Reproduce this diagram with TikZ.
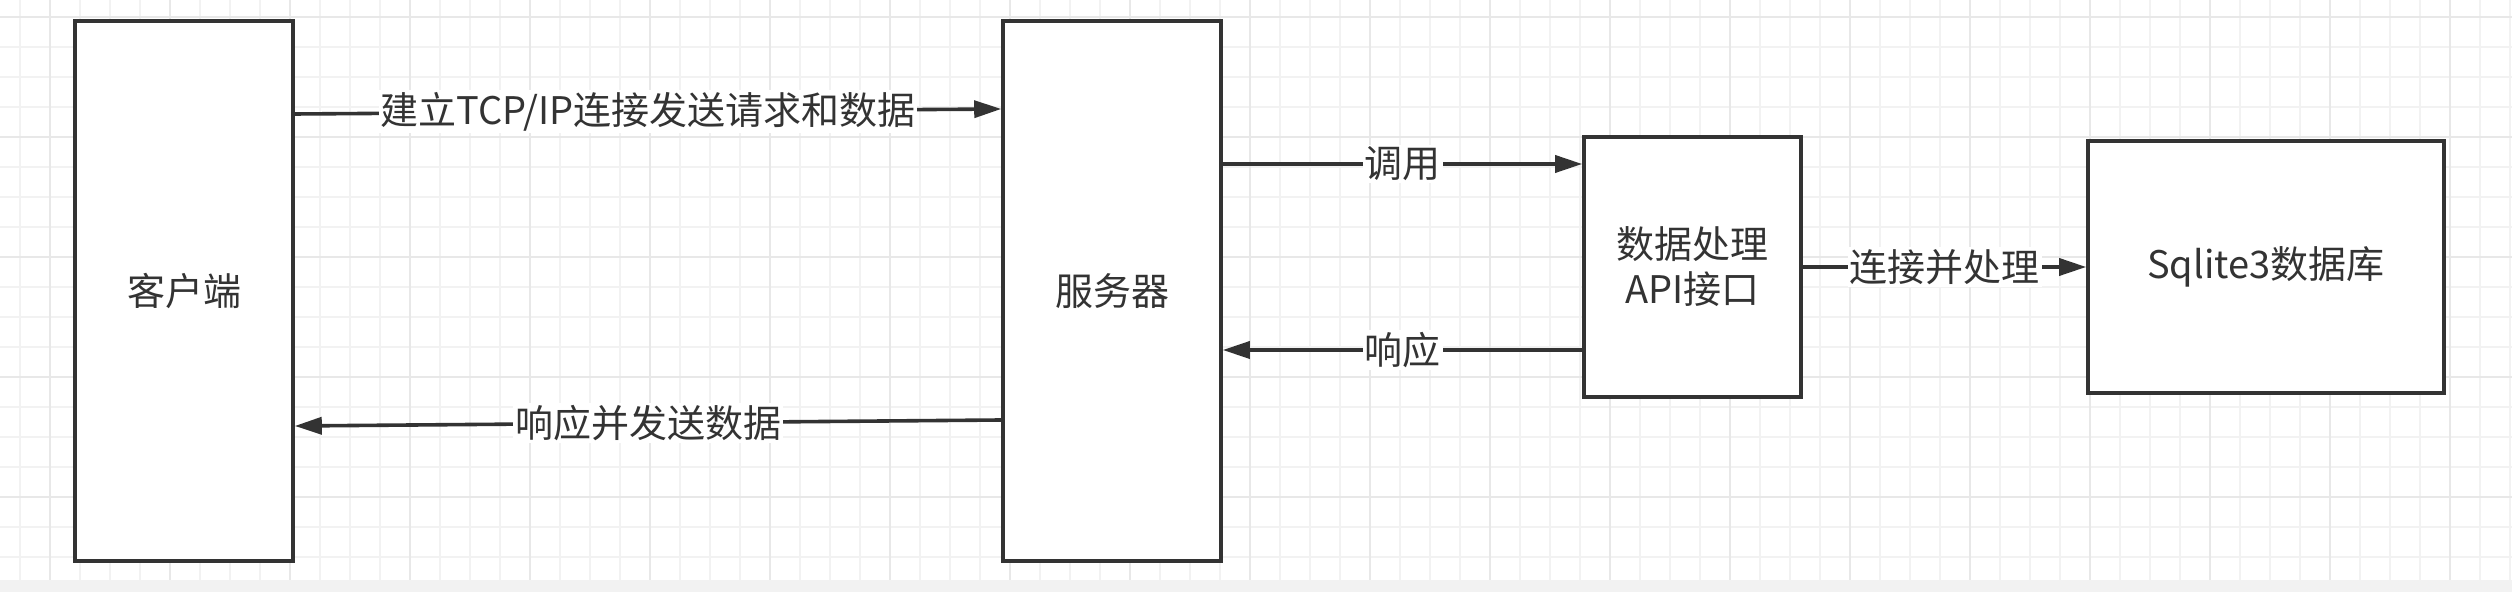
\documentclass[tikz,border=0pt]{standalone}
\usepackage{fontspec}
\setmainfont{Noto Sans CJK SC}
\usetikzlibrary{arrows.meta}
\definecolor{ink}{HTML}{333333}

\begin{document}
\begin{tikzpicture}[x=0.5pt, y=-0.5pt,
    every node/.style={font=\fontsize{19}{22.5}\selectfont, text=ink},
    box/.style={draw=ink, line width=1.8pt, fill=white, inner sep=0pt},
    link/.style={draw=ink, line width=1.8pt, -{Triangle[length=13.5pt,width=8.5pt]}},
    tag/.style={fill=white, inner sep=1pt}]
\useasboundingbox (0,0) rectangle (2512,592);
% grid paper
\foreach \gx in {20,50,...,2510} \draw[gray!10, line width=1pt] (\gx,0) -- (\gx,580);
\foreach \gy in {17,47,...,577} \draw[gray!10, line width=1pt] (0,\gy) -- (2512,\gy);
\foreach \gx in {50,170,...,2450} \draw[gray!18, line width=1.2pt] (\gx,0) -- (\gx,580);
\foreach \gy in {17,137,...,497} \draw[gray!18, line width=1.2pt] (0,\gy) -- (2512,\gy);
\fill[gray!10] (0,580) rectangle (2512,592);

\node[box, minimum width=109pt, minimum height=270pt] (client) at (184,291) {客户端};
\node[box, minimum width=109pt, minimum height=270pt] (server) at (1112,291) {服务器};
\node[box, minimum width=108.5pt, minimum height=130pt, align=center] (api) at (1692.5,267) {数据处理\\API接口};
\node[box, minimum width=178pt, minimum height=126pt] (db) at (2266,267) {Sqlite3数据库};

\draw[link] ([yshift=88.5pt]client.east) -- node[tag]{建立TCP/IP连接发送请求和数据} ([yshift=91pt]server.west);
\draw[link] ([yshift=-64.5pt]server.west) -- node[tag]{响应并发送数据} ([yshift=-67.5pt]client.east);
\draw[link] ([yshift=63.5pt]server.east) -- node[tag]{调用} ([yshift=51.5pt]api.west);
\draw[link] ([yshift=-41.5pt]api.west) -- node[tag]{响应} ([yshift=-29.5pt]server.east);
\draw[link] (api.east) -- node[tag]{连接并处理} (db.west);
\end{tikzpicture}
\end{document}
